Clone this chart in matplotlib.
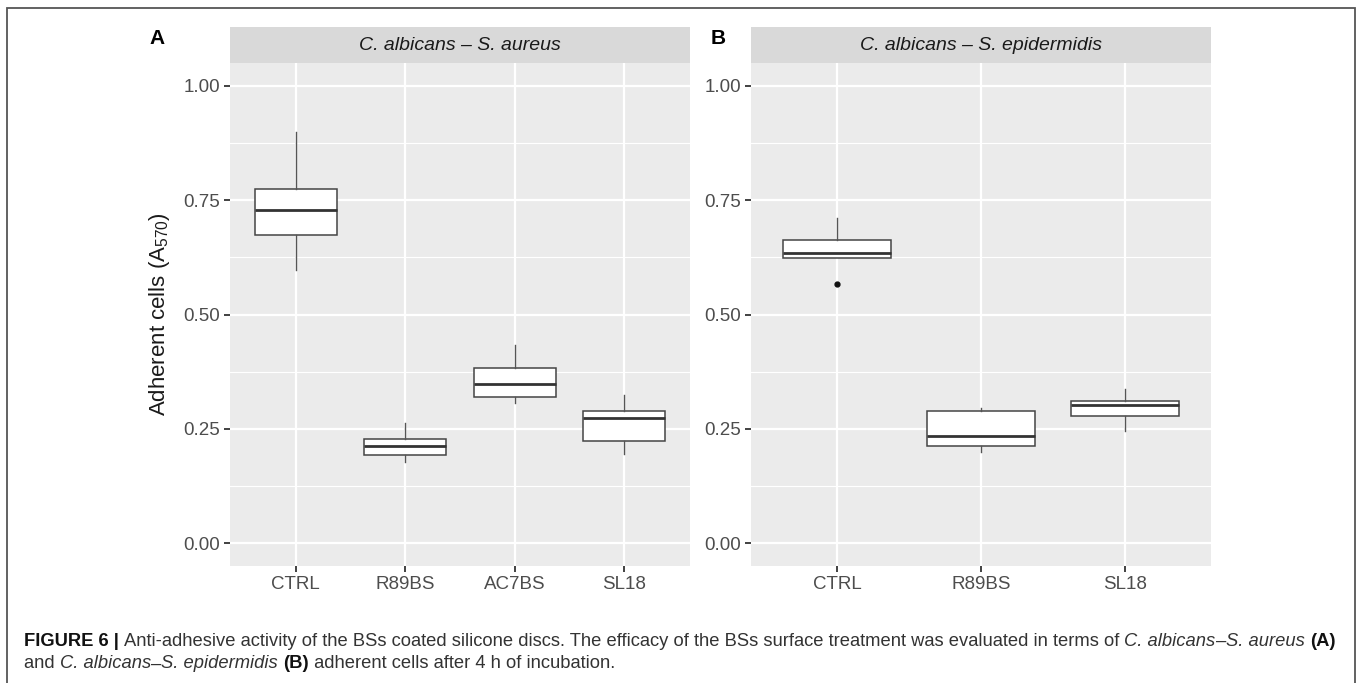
"""
    Box plots of adherent cells on BS coated silicone discs (Figure 6)
"""

import matplotlib
matplotlib.use('Agg')
from matplotlib import pyplot as plt
from matplotlib.patches import Rectangle
from matplotlib.ticker import MultipleLocator

## DATA

cats_a = ['CTRL', 'R89BS', 'AC7BS', 'SL18']
whislo_a = [0.598, 0.177, 0.306, 0.196]
q1_a = [0.674, 0.192, 0.320, 0.224]
med_a = [0.728, 0.212, 0.347, 0.274]
q3_a = [0.775, 0.228, 0.382, 0.288]
whishi_a = [0.900, 0.263, 0.434, 0.325]
fliers_a = [[], [], [], []]

cats_b = ['CTRL', 'R89BS', 'SL18']
whislo_b = [0.624, 0.199, 0.245]
q1_b = [0.624, 0.2135, 0.279]
med_b = [0.634, 0.235, 0.303]
q3_b = [0.662, 0.288, 0.3115]
whishi_b = [0.711, 0.296, 0.337]
fliers_b = [[0.566], [], []]

yticks = [0.0, 0.25, 0.5, 0.75, 1.0]
ytick_labels = ['0.00', '0.25', '0.50', '0.75', '1.00']

strip_a = 'C. albicans \u2013 S. aureus'
strip_b = 'C. albicans \u2013 S. epidermidis'

# caption pieces: (text, style) with style n = normal, i = italic, b = bold
caption1 = [('FIGURE 6 | ', 'b'),
            ('Anti-adhesive activity of the BSs coated silicone discs. The efficacy '
             'of the BSs surface treatment was evaluated in terms of ', 'n'),
            ('C. albicans', 'i'), ('\u2013', 'n'), ('S. aureus', 'i'), (' ', 'n'),
            ('(A)', 'b')]
caption2 = [('and ', 'n'), ('C. albicans', 'i'), ('\u2013', 'n'),
            ('S. epidermidis', 'i'), (' ', 'n'), ('(B)', 'b'),
            (' adherent cells after 4 h of incubation.', 'n')]

W, H = 1357, 683

plt.rcParams['font.family'] = ['Liberation Sans', 'DejaVu Sans']
plt.rcParams['mathtext.fontset'] = 'custom'
plt.rcParams['mathtext.rm'] = 'Liberation Sans'
plt.rcParams['mathtext.it'] = 'Liberation Sans:italic'
plt.rcParams['mathtext.bf'] = 'Liberation Sans:bold'


def px(x0, y0, x1, y1):
    """pixel box (top-left origin) -> figure fraction rect"""
    return [x0 / W, 1 - y1 / H, (x1 - x0) / W, (y1 - y0) / H]


def panel(fig, x0, x1, cats, lo, q1, med, q3, hi, fl, strip):
    ax = fig.add_axes(px(x0, 63, x1, 566))
    stats = []
    for i in range(len(cats)):
        stats.append(dict(whislo=lo[i], q1=q1[i], med=med[i], q3=q3[i],
                          whishi=hi[i], fliers=fl[i]))
    ax.bxp(stats, positions=range(1, len(cats) + 1), widths=0.75,
           patch_artist=True, showcaps=False,
           boxprops=dict(facecolor='white', edgecolor='#444444', linewidth=1.1),
           medianprops=dict(color='#333333', linewidth=2.0),
           whiskerprops=dict(color='#555555', linewidth=1.0),
           flierprops=dict(marker='o', markersize=3.5, markerfacecolor='#111111',
                           markeredgecolor='#111111'))
    ax.set_xlim(0.4, len(cats) + 0.6)
    ax.set_ylim(-0.05, 1.05)
    ax.set_facecolor('#EBEBEB')
    ax.set_axisbelow(True)
    ax.set_xticks(range(1, len(cats) + 1))
    ax.set_xticklabels(cats)
    ax.set_yticks(yticks)
    ax.set_yticklabels(ytick_labels)
    ax.yaxis.set_minor_locator(MultipleLocator(0.125))
    ax.grid(which='major', color='white', linewidth=1.6)
    ax.grid(which='minor', axis='y', color='white', linewidth=0.8)
    for s in ax.spines.values():
        s.set_visible(False)
    ax.tick_params(which='major', length=4, width=1.3, color='#333333',
                   labelcolor='#4D4D4D', labelsize=13.5, pad=3)
    ax.tick_params(which='minor', length=0)

    sx = fig.add_axes(px(x0, 27, x1, 63))
    sx.set_facecolor('#D9D9D9')
    sx.set_xticks([])
    sx.set_yticks([])
    for s in sx.spines.values():
        s.set_visible(False)
    sx.text(0.5, 0.5, strip, transform=sx.transAxes, ha='center', va='center',
            style='italic', fontsize=14, color='#1A1A1A')
    return ax


def rich_line(fig, x, y, parts, size):
    """write text pieces one after another, measuring each one"""
    r = fig.canvas.get_renderer()
    for s, kind in parts:
        kw = dict(fontsize=size, va='center', color='#333333')
        if kind == 'i':
            kw['style'] = 'italic'
        if kind == 'b':
            kw['fontweight'] = 'bold'
            kw['color'] = '#111111'
        t = fig.text(x / W, 1 - y / H, s, **kw)
        x += t.get_window_extent(r).width


fig = plt.figure(figsize=(W / 100, H / 100), dpi=100)

ax_a = panel(fig, 230, 690, cats_a, whislo_a, q1_a, med_a, q3_a, whishi_a,
             fliers_a, strip_a)
ax_b = panel(fig, 751, 1211, cats_b, whislo_b, q1_b, med_b, q3_b, whishi_b,
             fliers_b, strip_b)

ax_a.set_ylabel('Adherent cells (A$_{570}$)', fontsize=16, color='#1A1A1A',
                labelpad=8)

fig.text(157 / W, 1 - 39 / H, 'A', fontsize=15, fontweight='bold',
         ha='center', va='center')
fig.text(718 / W, 1 - 39 / H, 'B', fontsize=15, fontweight='bold',
         ha='center', va='center')

rich_line(fig, 24, 641, caption1, 13.2)
rich_line(fig, 24, 664, caption2, 13.2)

# outer frame of the figure box
fig.add_artist(Rectangle((7 / W, -0.02), (1355 - 7) / W, 1 - 8 / H + 0.02,
                         transform=fig.transFigure, fill=False,
                         edgecolor='#555555', linewidth=1.3))

fig.savefig('out.png', dpi=100)
